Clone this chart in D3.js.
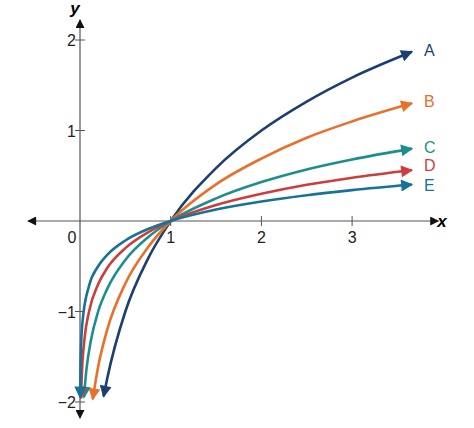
<!DOCTYPE html>
<html><head><meta charset="utf-8">
<script src="https://cdn.jsdelivr.net/npm/d3@7"></script>
<style>body{margin:0;background:#fff}</style>
</head><body>
<svg id="chart" width="474" height="428"></svg>
<script>
// curves: [x, y]
var curveA = [[0.26,-1.94],[0.3,-1.74],[0.5,-1],[0.75,-0.415],[1,0],[1.5,0.585],[2,1],[2.5,1.32],[3,1.585],[3.66,1.87]];
var curveB = [[0.14,-1.97],[0.2,-1.61],[0.3,-1.2],[0.5,-0.69],[0.75,-0.29],[1,0],[1.5,0.405],[2,0.69],[2.5,0.92],[3,1.1],[3.66,1.3]];
var curveC = [[0.043,-1.95],[0.07,-1.65],[0.12,-1.32],[0.2,-1],[0.3,-0.75],[0.5,-0.43],[0.75,-0.18],[1,0],[1.5,0.25],[2,0.43],[2.5,0.57],[3,0.68],[3.66,0.8]];
var curveD = [[0.011,-1.96],[0.02,-1.7],[0.05,-1.3],[0.1,-1],[0.2,-0.7],[0.3,-0.52],[0.5,-0.3],[0.75,-0.125],[1,0],[1.5,0.176],[2,0.3],[2.5,0.4],[3,0.477],[3.66,0.563]];
var curveE = [[0.0019,-1.95],[0.005,-1.65],[0.01,-1.43],[0.03,-1.09],[0.1,-0.715],[0.2,-0.5],[0.3,-0.374],[0.5,-0.215],[0.75,-0.089],[1,0],[1.5,0.126],[2,0.215],[2.5,0.285],[3,0.341],[3.66,0.403]];
var names = ["A","B","C","D","E"];
var colors = ["#1b3f73","#e8702a","#1c8f8c","#cc3e3e","#17729a"];
var xTicks = [1,2,3];
var yTicks = [-2,-1,1,2];

var svg = d3.select("#chart");
var x = d3.scaleLinear().domain([0,1]).range([80,170.7]);
var y = d3.scaleLinear().domain([0,1]).range([221,130.5]);
var font = "'Liberation Sans', Arial, sans-serif";

var defs = svg.append("defs");
function marker(id, color, w, h){
    defs.append("marker").attr("id",id).attr("viewBox","0 0 10 10")
        .attr("refX",9).attr("refY",5).attr("markerWidth",w).attr("markerHeight",h)
        .attr("markerUnits","userSpaceOnUse").attr("orient","auto-start-reverse")
        .append("path").attr("d","M0,0L10,5L0,10z").attr("fill",color);
}
marker("ax","#111",12,9);

// axes
var axisColor = "#555";
svg.append("line").attr("x1",28).attr("x2",x(3.95)).attr("y1",y(0)).attr("y2",y(0))
    .attr("stroke",axisColor).attr("stroke-width",1.2)
    .attr("marker-start","url(#ax)").attr("marker-end","url(#ax)");
svg.append("line").attr("x1",x(0)).attr("x2",x(0)).attr("y1",418).attr("y2",20)
    .attr("stroke",axisColor).attr("stroke-width",1.2)
    .attr("marker-start","url(#ax)").attr("marker-end","url(#ax)");

svg.selectAll(".xt").data(xTicks).enter().append("line")
    .attr("x1",d=>x(d)).attr("x2",d=>x(d)).attr("y1",y(0)-5).attr("y2",y(0)+5)
    .attr("stroke",axisColor);
svg.selectAll(".yt").data(yTicks).enter().append("line")
    .attr("y1",d=>y(d)).attr("y2",d=>y(d)).attr("x1",x(0)-5).attr("x2",x(0)+5)
    .attr("stroke",axisColor);

svg.selectAll(".xl").data(xTicks).enter().append("text")
    .attr("x",d=>x(d)).attr("y",y(0)+22).attr("text-anchor","middle")
    .style("font-family",font).style("font-size","16px").attr("fill","#222").text(d=>d);
svg.append("text").attr("x",x(0)-8).attr("y",y(0)+22).attr("text-anchor","middle")
    .style("font-family",font).style("font-size","16px").attr("fill","#222").text("0");
svg.selectAll(".yl").data(yTicks).enter().append("text")
    .attr("x",x(0)-4).attr("y",d=>y(d)+6).attr("text-anchor","end")
    .style("font-family",font).style("font-size","16px").attr("fill","#222")
    .text(d=>d<0 ? "\u2212"+(-d) : d);

svg.append("text").attr("x",442).attr("y",y(0)+6).attr("text-anchor","middle")
    .style("font-family",font).style("font-size","17px").style("font-weight","bold").style("font-style","italic")
    .text("x");
svg.append("text").attr("x",75).attr("y",14).attr("text-anchor","middle")
    .style("font-family",font).style("font-size","17px").style("font-weight","bold").style("font-style","italic")
    .text("y");

// curves
var line = d3.line().x(d=>x(d[0])).y(d=>y(d[1])).curve(d3.curveMonotoneX);
var curves = [curveA,curveB,curveC,curveD,curveE];
curves.forEach(function(c,i){
    marker("m"+i, colors[i], 16, 12);
    svg.append("path").attr("d",line(c)).attr("fill","none")
        .attr("stroke",colors[i]).attr("stroke-width",2.6)
        .attr("marker-start","url(#m"+i+")").attr("marker-end","url(#m"+i+")");
});
curves.forEach(function(c,i){
    var last = c[c.length-1];
    svg.append("text").attr("x",x(last[0])+12).attr("y",y(last[1])+4 + (i==3?-3:0) + (i==4?2:0))
        .style("font-family",font).style("font-size","16px").attr("fill",colors[i]).text(names[i]);
});
</script>
</body></html>
